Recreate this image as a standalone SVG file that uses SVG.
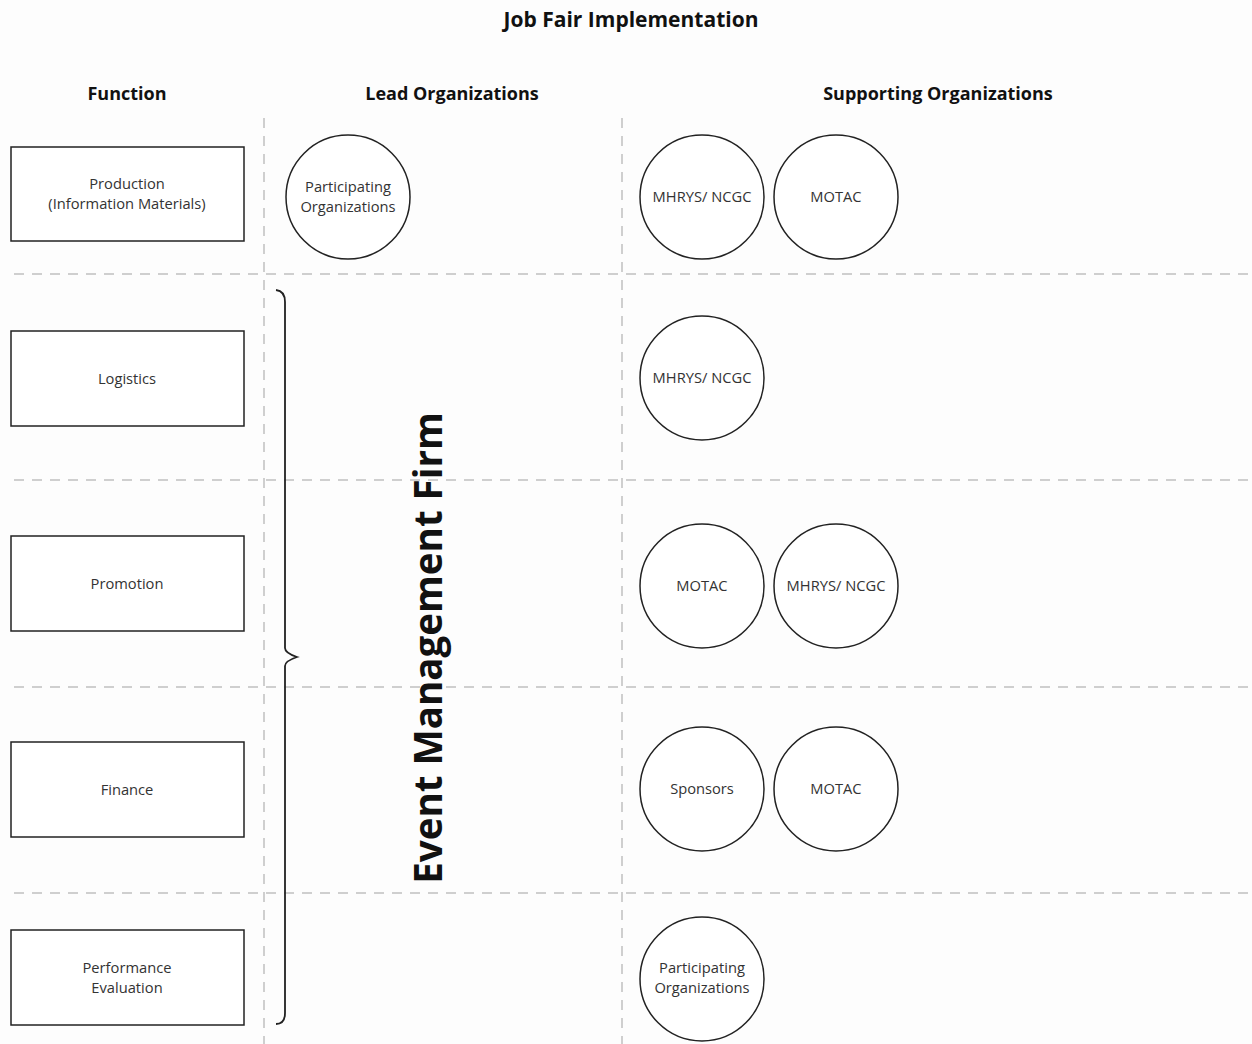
<svg xmlns="http://www.w3.org/2000/svg" width="1252" height="1044" viewBox="0 0 1252 1044">
<style>
.bg{fill:#fdfdfd}
.grid{stroke:#cfcfcf;stroke-width:2;stroke-dasharray:10 8;fill:none}
.box{fill:#fff;stroke:#222;stroke-width:1.5}
.circ{fill:#fff;stroke:#222;stroke-width:1.5}
.lbl{font-family:"Open Sans","Liberation Sans",sans-serif;font-size:14.7px;fill:#333;text-anchor:middle}
.hdr{font-family:"Open Sans","Liberation Sans",sans-serif;font-size:18px;font-weight:bold;fill:#111;text-anchor:middle}
.title{font-family:"Open Sans","Liberation Sans",sans-serif;font-size:21px;font-weight:bold;fill:#111;text-anchor:middle}
.big{font-family:"Open Sans","Liberation Sans",sans-serif;font-size:38.5px;font-weight:bold;fill:#111;text-anchor:middle}
.brace{fill:none;stroke:#222;stroke-width:1.8}
</style>
<rect class="bg" x="0" y="0" width="1252" height="1044"/>
<text class="title" x="631" y="27">Job Fair Implementation</text>
<text class="hdr" x="127" y="100">Function</text>
<text class="hdr" x="452" y="100">Lead Organizations</text>
<text class="hdr" x="938" y="100">Supporting Organizations</text>
<g id="grid">
<line class="grid" x1="264" y1="118" x2="264" y2="1044"/>
<line class="grid" x1="622" y1="118" x2="622" y2="1044"/>
<line class="grid" x1="14" y1="274" x2="1252" y2="274"/>
<line class="grid" x1="14" y1="480" x2="1252" y2="480"/>
<line class="grid" x1="14" y1="687" x2="1252" y2="687"/>
<line class="grid" x1="14" y1="893" x2="1252" y2="893"/>
</g>
<g id="connectors">
<path class="brace" d="M276,290 Q285,291 285,302 L285,648 Q285,653 297,657 Q285,661 285,666 L285,1013 Q285,1024 276,1024"/>
</g>
<g id="f-production"><rect class="box" x="11" y="147" width="233" height="94"/><text class="lbl" x="127" y="189">Production</text><text class="lbl" x="127" y="209">(Information Materials)</text></g>
<g id="f-logistics"><rect class="box" x="11" y="331" width="233" height="95"/><text class="lbl" x="127" y="384">Logistics</text></g>
<g id="f-promotion"><rect class="box" x="11" y="536" width="233" height="95"/><text class="lbl" x="127" y="589">Promotion</text></g>
<g id="f-finance"><rect class="box" x="11" y="742" width="233" height="95"/><text class="lbl" x="127" y="795">Finance</text></g>
<g id="f-performance"><rect class="box" x="11" y="930" width="233" height="95"/><text class="lbl" x="127" y="973">Performance</text><text class="lbl" x="127" y="993">Evaluation</text></g>
<g id="lead-participating"><circle class="circ" cx="348" cy="197" r="62"/><text class="lbl" x="348" y="192">Participating</text><text class="lbl" x="348" y="212">Organizations</text></g>
<g id="lead-emf"><text class="big" transform="translate(442,648) rotate(-90)" x="0" y="0">Event Management Firm</text></g>
<g id="s1-mhrys"><circle class="circ" cx="702" cy="197" r="62"/><text class="lbl" x="702" y="202">MHRYS/ NCGC</text></g>
<g id="s1-motac"><circle class="circ" cx="836" cy="197" r="62"/><text class="lbl" x="836" y="202">MOTAC</text></g>
<g id="s2-mhrys"><circle class="circ" cx="702" cy="378" r="62"/><text class="lbl" x="702" y="383">MHRYS/ NCGC</text></g>
<g id="s3-motac"><circle class="circ" cx="702" cy="586" r="62"/><text class="lbl" x="702" y="591">MOTAC</text></g>
<g id="s3-mhrys"><circle class="circ" cx="836" cy="586" r="62"/><text class="lbl" x="836" y="591">MHRYS/ NCGC</text></g>
<g id="s4-sponsors"><circle class="circ" cx="702" cy="789" r="62"/><text class="lbl" x="702" y="794">Sponsors</text></g>
<g id="s4-motac"><circle class="circ" cx="836" cy="789" r="62"/><text class="lbl" x="836" y="794">MOTAC</text></g>
<g id="s5-participating"><circle class="circ" cx="702" cy="979" r="62"/><text class="lbl" x="702" y="973">Participating</text><text class="lbl" x="702" y="993">Organizations</text></g>
</svg>
